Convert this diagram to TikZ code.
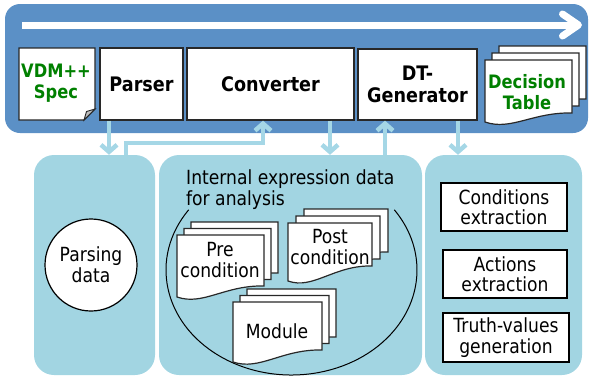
\documentclass[tikz,border=0pt]{standalone}
\usepackage{fontspec}
\setmainfont[FakeStretch=0.88]{DejaVu Sans}
\usetikzlibrary{arrows.meta}
\definecolor{band}{RGB}{91,144,198}
\definecolor{panel}{RGB}{162,213,226}
\definecolor{flowc}{RGB}{165,215,230}
\definecolor{dgreen}{RGB}{0,128,0}
\definecolor{edge}{RGB}{40,40,40}
\newcommand{\docsh}[7]{%
  \filldraw[docst] ({#1+(#6)},{#2+(#7)}) -- ({#3+(#6)},{#2+(#7)}) -- ({#3+(#6)},{#5+(#7)})
    .. controls ({#1+0.55*(#3-#1)+(#6)},{#5-1+(#7)}) and ({#1+0.3*(#3-#1)+(#6)},{#4+9+(#7)}) .. ({#1+(#6)},{#4+(#7)}) -- cycle;}
\newcommand{\docstk}[7]{%
  \docsh{#1}{#2}{#3}{#4}{#5}{2*(#6)}{2*(#7)}%
  \docsh{#1}{#2}{#3}{#4}{#5}{#6}{#7}%
  \docsh{#1}{#2}{#3}{#4}{#5}{0}{0}}
\begin{document}
\begin{tikzpicture}[x=1pt,y=-1pt,
  docst/.style={fill=white,draw=edge,line width=1.2pt},
  topbox/.style={draw=edge,fill=white,line width=1.3pt,font=\bfseries\fontsize{20}{21.5}\selectfont,align=center,inner sep=0pt},
  rbox/.style={draw=black,fill=white,line width=1.3pt,font=\fontsize{19.5}{20.5}\selectfont,align=center,inner sep=0pt},
  lbl/.style={font=\fontsize{19.5}{20.5}\selectfont,align=center,inner sep=0pt},
  glbl/.style={font=\bfseries\fontsize{18.5}{21}\selectfont,text=dgreen,align=center,inner sep=0pt},
  panelst/.style={fill=panel,rounded corners=20pt,inner sep=0pt},
  flow/.style={draw=flowc,line width=4.5pt,-{Straight Barb[length=7pt,width=16pt]}}]
\useasboundingbox (0,0) rectangle (590,376);
% top band
\node[fill=band,rounded corners=15pt,minimum width=583pt,minimum height=129pt,inner sep=0pt] (band) at (296.5,68.5) {};
\coordinate (wa) at (22,25);
\coordinate (wb) at (582,25);
\draw[white,line width=7pt,-{Straight Barb[length=16pt,width=22pt,round]}] (wa) -- (wb);
% VDM++ spec (dog-ear)
\filldraw[docst] (19,48) -- (95,48) -- (95,109) -- (84,120) -- (19,120) -- cycle;
\filldraw[fill=black!25,draw=edge,line width=0.9pt] (95,109) -- (84,120) -- (86.5,111.5) -- cycle;
\node[glbl] (vdm) at (56,83) {VDM++\\Spec};
% top boxes
\node[topbox,minimum width=83pt,minimum height=72pt] (parser) at (141.5,84) {Parser};
\node[topbox,minimum width=167pt,minimum height=72pt] (conv) at (270.5,84) {Converter};
\node[topbox,minimum width=119pt,minimum height=71pt] (dtg) at (417.5,84.5) {DT-\\Generator};
% decision table
\docstk{485}{60}{572}{122}{113}{7}{-7}
\node[glbl] (dt) at (527,92) {Decision\\Table};
% panels
\node[panelst,minimum width=121pt,minimum height=220pt] (lp) at (94.5,265) {};
\node[panelst,minimum width=263pt,minimum height=220pt] (mp) at (290.5,265) {};
\node[panelst,minimum width=157pt,minimum height=220pt] (rp) at (503.5,265) {};
% flows
\coordinate (xa) at (109,0);
\coordinate (xb) at (126,0);
\coordinate (xc) at (263,0);
\coordinate (xd) at (330,0);
\coordinate (xe) at (385,0);
\coordinate (xf) at (458,0);
\coordinate (yb) at (0,143);
\draw[flow] (parser.south -| xa) -- (lp.north -| xa);
\draw[flow] (lp.north -| xb) -- (xb |- yb) -- (xc |- yb) -- (conv.south -| xc);
\draw[flow] (conv.south -| xd) -- (mp.north -| xd);
\draw[flow] (mp.north -| xe) -- (dtg.south -| xe);
\draw[flow] (dtg.south -| xf) -- (rp.north -| xf);
% left panel
\node[circle,draw=black,fill=white,line width=1.2pt,minimum size=92pt,inner sep=0pt,font=\fontsize{19.5}{21}\selectfont,align=center] (pd) at (91,265) {Parsing\\data};
% middle panel
\node[anchor=north west,inner sep=0pt,font=\fontsize{19.5}{21}\selectfont,align=left] (itx) at (186,169) {Internal expression data\\for analysis};
\coordinate (ec) at (291.5,270);
\draw[black,line width=1pt] (ec) ++(145:125.5pt and 105pt) arc[start angle=145,end angle=395,x radius=125.5pt,y radius=105pt];
\docstk{177}{235}{264}{297}{286}{7}{-6.5}
\node[lbl] (pre) at (220,260) {Pre\\condition};
\docstk{288}{223}{372}{281}{266}{8}{-7}
\node[lbl] (post) at (330,247) {Post\\condition};
\docstk{233}{302}{322}{362}{350}{7}{-6.5}
\node[lbl] (mod) at (277,331) {Module};
% right panel
\node[rbox,minimum width=126pt,minimum height=48pt] (cond) at (504,207) {Conditions\\extraction};
\node[rbox,minimum width=124pt,minimum height=48pt] (act) at (505,274) {Actions\\extraction};
\node[rbox,minimum width=126pt,minimum height=49pt] (truth) at (506,337.5) {Truth-values\\generation};
\end{tikzpicture}
\end{document}
